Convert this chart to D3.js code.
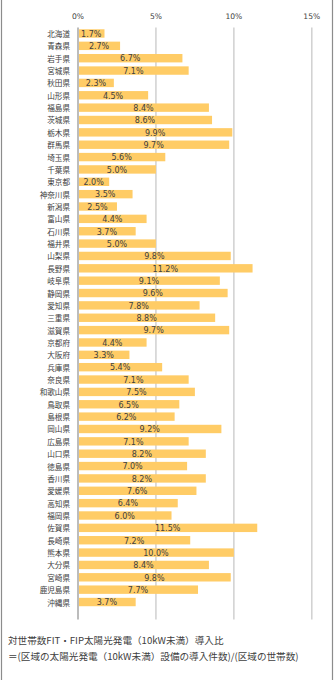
<!DOCTYPE html>
<html><head><meta charset="utf-8">
<script src="https://cdn.jsdelivr.net/npm/d3@7"></script>
<style>
html,body{margin:0;padding:0;background:#fff;}
svg{display:block;}
</style></head>
<body>
<script>
const prefectures = ["北海道","青森県","岩手県","宮城県","秋田県","山形県","福島県","茨城県","栃木県","群馬県","埼玉県","千葉県","東京都","神奈川県","新潟県","富山県","石川県","福井県","山梨県","長野県","岐阜県","静岡県","愛知県","三重県","滋賀県","京都府","大阪府","兵庫県","奈良県","和歌山県","鳥取県","島根県","岡山県","広島県","山口県","徳島県","香川県","愛媛県","高知県","福岡県","佐賀県","長崎県","熊本県","大分県","宮崎県","鹿児島県","沖縄県"];
const ratios = [1.7,2.7,6.7,7.1,2.3,4.5,8.4,8.6,9.9,9.7,5.6,5.0,2.0,3.5,2.5,4.4,3.7,5.0,9.8,11.2,9.1,9.6,7.8,8.8,9.7,4.4,3.3,5.4,7.1,7.5,6.5,6.2,9.2,7.1,8.2,7.0,8.2,7.6,6.4,6.0,11.5,7.2,10.0,8.4,9.8,7.7,3.7];
const tickValues = [0,5,10,15];
const noteLines = ["対世帯数FIT・FIP太陽光発電（10kW未満）導入比","＝(区域の太陽光発電（10kW未満）設備の導入件数)/(区域の世帯数)"];

const W = 334, H = 680;
const svg = d3.select("body").append("svg").attr("width", W).attr("height", H);

// frame
svg.append("line").attr("x1",1.5).attr("x2",1.5).attr("y1",0).attr("y2",H).attr("stroke","#8c8c8c").attr("stroke-width",1.2);
svg.append("line").attr("x1",332.5).attr("x2",332.5).attr("y1",0).attr("y2",H).attr("stroke","#8c8c8c").attr("stroke-width",1.2);

const x = d3.scaleLinear().domain([0,15]).range([78,311.8]);
const y = d3.scaleBand().domain(prefectures).range([27.3,608.2]).paddingInner(0.32).paddingOuter(0.16);

const gridTop = 27.5, gridBottom = 619.5;
svg.append("g").selectAll("line").data(tickValues).join("line")
  .attr("x1",d=>x(d)).attr("x2",d=>x(d)).attr("y1",gridTop).attr("y2",gridBottom)
  .attr("stroke",d=>d===0?"#a6a6a6":"#d0d0d0").attr("stroke-width",1.5);

const font = "'DejaVu Sans', Verdana, sans-serif";
const cjk = "'Noto Sans CJK JP', sans-serif";

svg.append("g").selectAll("text").data(tickValues).join("text")
  .attr("x",d=>x(d)).attr("y",16).attr("text-anchor","middle").attr("dominant-baseline","central")
  .attr("font-family",font).attr("font-size",7.6).attr("fill","#404040")
  .text(d=>d+"%");

svg.append("g").selectAll("rect").data(prefectures).join("rect")
  .attr("x",x(0)+1).attr("y",d=>y(d)).attr("height",y.bandwidth())
  .attr("width",(d,i)=>x(ratios[i])-x(0)-1)
  .attr("fill","#ffcc66");

svg.append("g").selectAll("text").data(prefectures).join("text")
  .attr("x",70).attr("y",d=>y(d)+y.bandwidth()/2).attr("text-anchor","end").attr("dominant-baseline","central")
  .attr("font-family",cjk).attr("font-size",7.6).attr("fill","#404040")
  .text(d=>d);

svg.append("g").selectAll("text").data(prefectures).join("text")
  .attr("x",(d,i)=>(x(0)+x(ratios[i]))/2).attr("y",d=>y(d)+y.bandwidth()/2+0.8)
  .attr("text-anchor","middle").attr("dominant-baseline","central")
  .attr("font-family",font).attr("font-size",8).attr("fill","#404040")
  .text((d,i)=>ratios[i].toFixed(1)+"%");

svg.append("g").selectAll("text").data(noteLines).join("text")
  .attr("x",8).attr("y",(d,i)=>640+i*16).attr("dominant-baseline","central")
  .attr("font-family",cjk).attr("font-size",9.6).attr("fill","#404040")
  .text(d=>d);
</script>
</body></html>
